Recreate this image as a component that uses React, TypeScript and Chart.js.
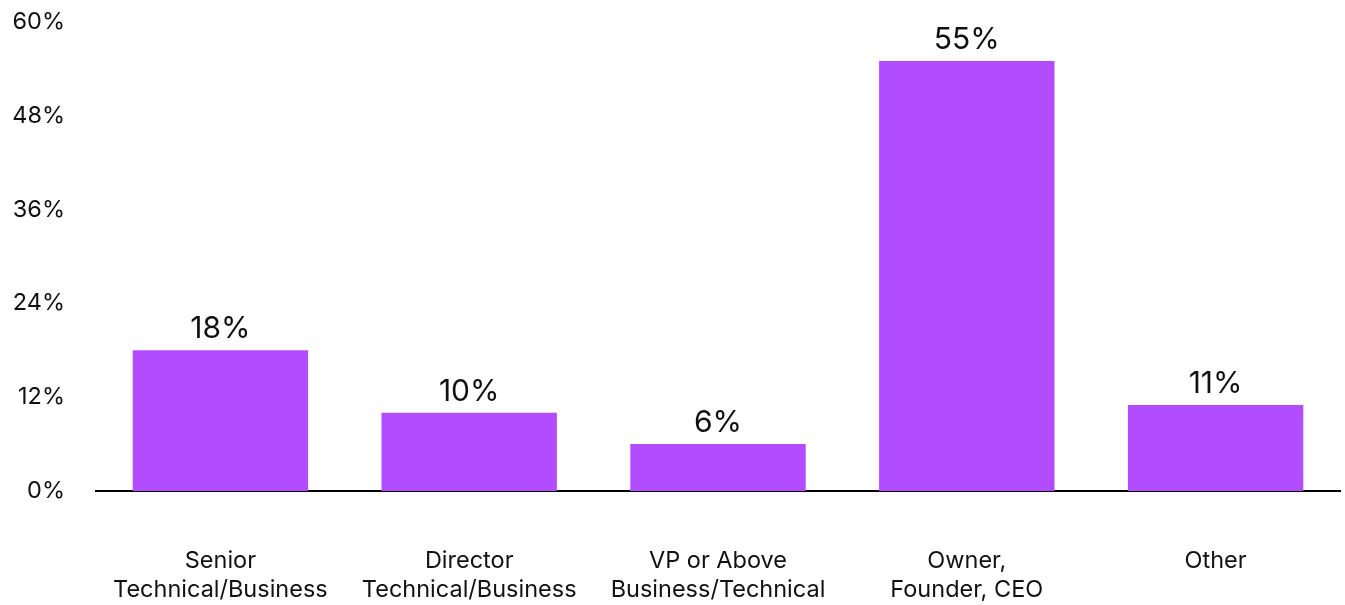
import React, { useEffect, useRef } from "react";
import { Chart, registerables } from "chart.js";

Chart.register(...registerables);

const categories: (string | string[])[] = [
  ["Senior", "Technical/Business"],
  ["Director", "Technical/Business"],
  ["VP or Above", "Business/Technical"],
  ["Owner,", "Founder, CEO"],
  "Other",
];
const shares = [18, 10, 6, 55, 11];
const yTicks = [0, 12, 24, 36, 48, 60];

const BAR_COLOR = "#b14dff";
const TEXT_COLOR = "#111111";
const FONT = "Inter";

const valueLabels = {
  id: "valueLabels",
  afterDatasetsDraw(chart: any) {
    const ctx = chart.ctx;
    const meta = chart.getDatasetMeta(0);
    ctx.save();
    ctx.font = `30px ${FONT}`;
    ctx.fillStyle = TEXT_COLOR;
    ctx.textAlign = "center";
    ctx.textBaseline = "alphabetic";
    meta.data.forEach((bar: any, i: number) => {
      ctx.fillText(`${shares[i]}%`, bar.x, bar.y - 12);
    });
    ctx.restore();
  },
};

export default function App() {
  const ref = useRef<HTMLCanvasElement | null>(null);
  useEffect(() => {
    document.body.style.margin = "0";
    const chart = new Chart(ref.current!, {
      type: "bar",
      data: {
        labels: categories,
        datasets: [
          {
            data: shares,
            backgroundColor: BAR_COLOR,
            borderWidth: 0,
            categoryPercentage: 1,
            barPercentage: 0.705,
          },
        ],
      },
      plugins: [valueLabels],
      options: {
        animation: false,
        responsive: false,
        maintainAspectRatio: false,
        layout: { padding: { top: 22, right: 5, left: 0, bottom: 0 } },
        plugins: { legend: { display: false }, tooltip: { enabled: false } },
        scales: {
          x: {
            grid: { display: false, drawTicks: false },
            border: { display: true, color: "#000000", width: 2 },
            ticks: {
              padding: 55,
              color: TEXT_COLOR,
              font: { family: FONT, size: 23.5, lineHeight: 1.25 },
              maxRotation: 0,
              autoSkip: false,
            },
            afterFit: (s: any) => {
              s.height = 114;
              s.paddingTop = 0;
              s.paddingBottom = 0;
            },
          },
          y: {
            min: 0,
            max: 60,
            grid: { display: false, drawTicks: false },
            border: { display: false },
            afterBuildTicks: (s: any) => {
              s.ticks = yTicks.map((v) => ({ value: v }));
            },
            ticks: {
              padding: 31,
              color: TEXT_COLOR,
              font: { family: FONT, size: 23.5 },
              callback: (v: any) => `${v}%`,
            },
            afterFit: (s: any) => {
              s.width = 96;
              s.paddingTop = 0;
              s.paddingBottom = 0;
            },
          },
        },
      },
    });
    return () => chart.destroy();
  }, []);
  return (
    <div style={{ width: 1345, height: 605 }}>
      <canvas ref={ref} width={1345} height={605} style={{ display: "block" }} />
    </div>
  );
}
